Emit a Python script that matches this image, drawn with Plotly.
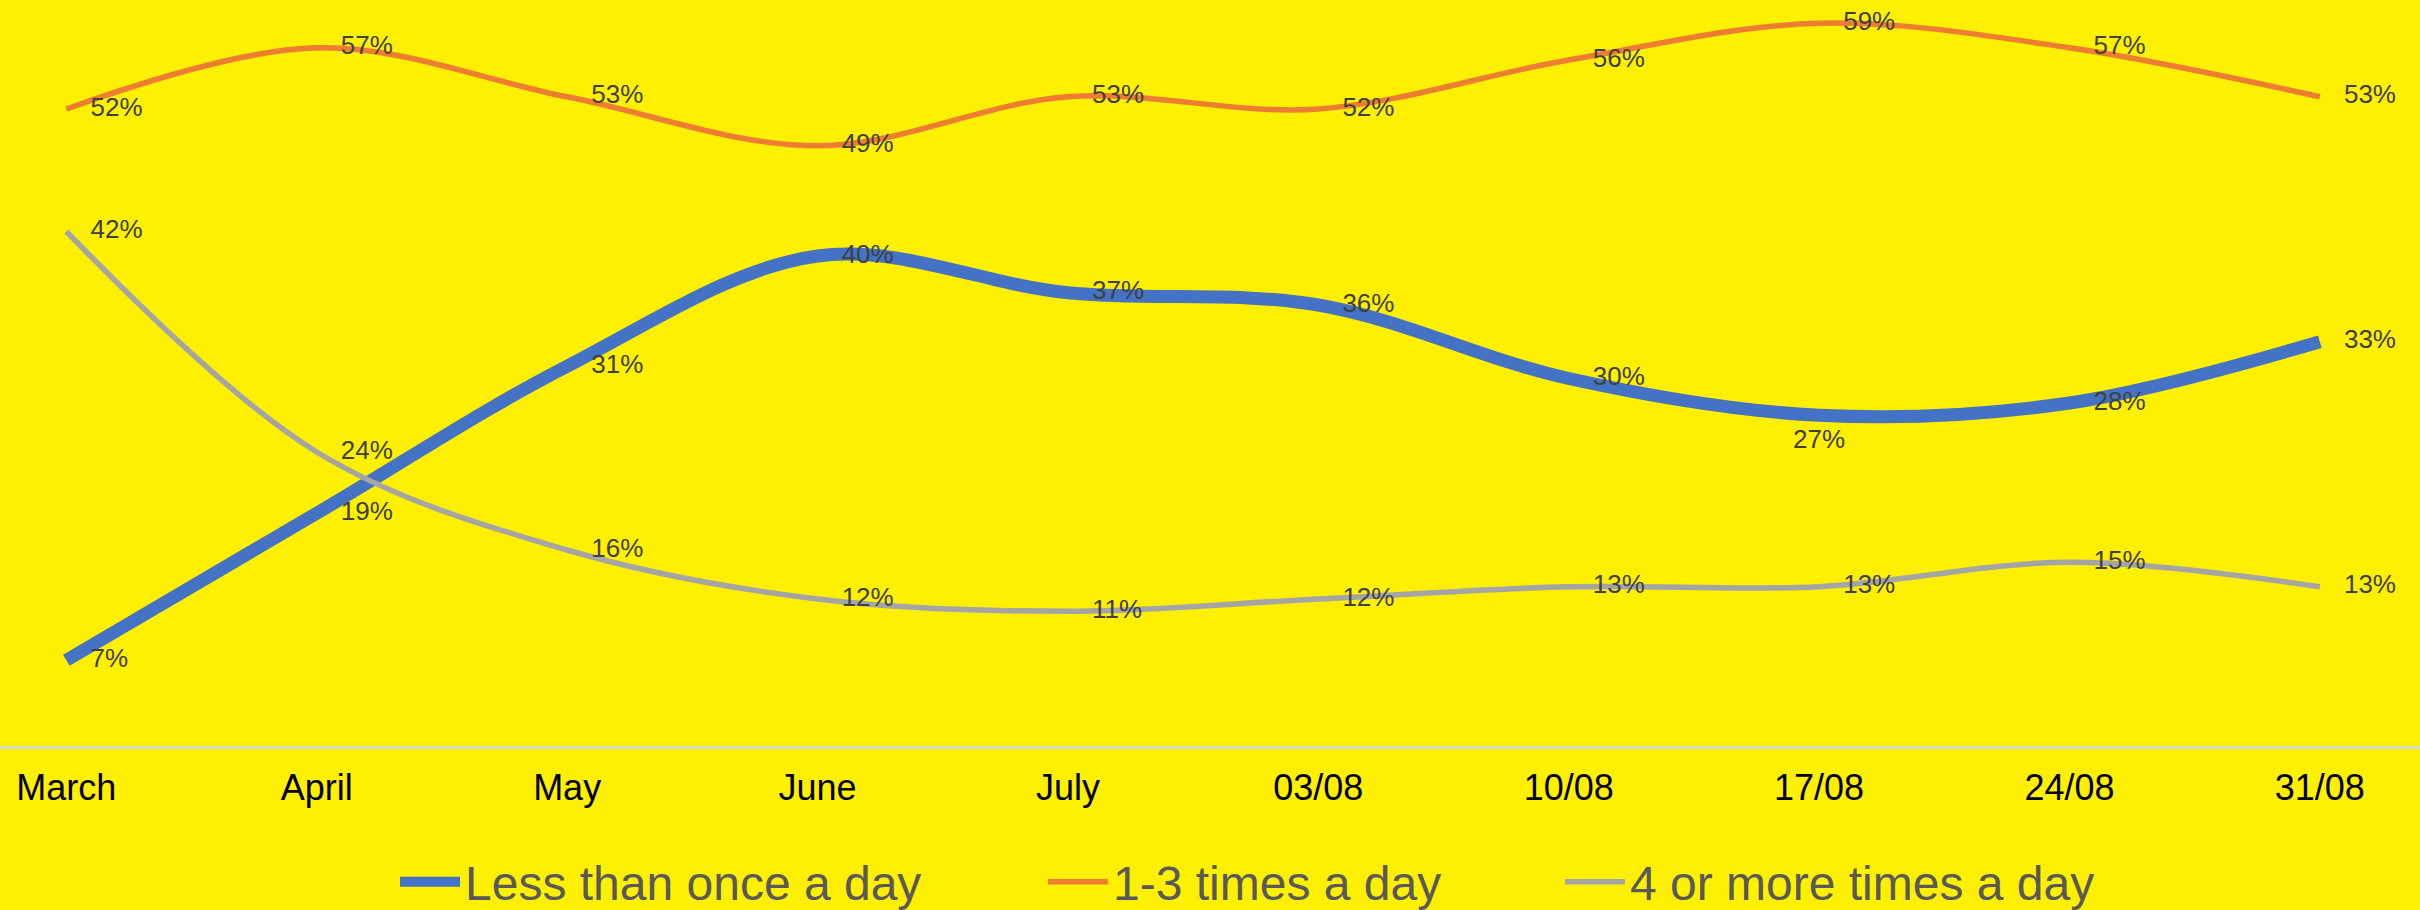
import plotly.graph_objects as go

categories = ["March", "April", "May", "June", "July", "03/08", "10/08", "17/08", "24/08", "31/08"]
less_than_once = [0.07, 0.19, 0.31, 0.40, 0.37, 0.36, 0.30, 0.27, 0.28, 0.33]
one_to_three = [0.52, 0.57, 0.53, 0.49, 0.53, 0.52, 0.56, 0.59, 0.57, 0.53]
four_or_more = [0.42, 0.24, 0.16, 0.12, 0.11, 0.12, 0.13, 0.13, 0.15, 0.13]

series_names = ["Less than once a day", "1-3 times a day", "4 or more times a day"]
colors = ["#4472C4", "#ED7D31", "#A5A5A5"]
widths = [13, 5.5, 5.5]

W, H = 2420, 910
top, bottom = 11, 746

FONT = "Arial, Liberation Sans, sans-serif"

fig = go.Figure()
all_series = [less_than_once, one_to_three, four_or_more]
legend_ids = ["legend", "legend2", "legend3"]
for i, (name, vals) in enumerate(zip(series_names, all_series)):
    positions = ["middle right"] * len(vals)
    if i == 0:
        positions[7] = "bottom center"
    sizes = [37] * len(vals)
    if i == 0:
        sizes[7] = 19
    fig.add_trace(go.Scatter(
        x=categories, y=vals, name=name,
        mode="lines+markers+text",
        line=dict(color=colors[i], width=widths[i], shape="spline", smoothing=1.0),
        marker=dict(size=sizes, opacity=0, color="rgba(0,0,0,0)",
                    line=dict(width=0, color="rgba(0,0,0,0)")),
        text=[f"{round(v*100)}%" for v in vals],
        textposition=positions,
        textfont=dict(family=FONT, size=26, color="#404040"),
        cliponaxis=False,
        legend=legend_ids[i],
        hoverinfo="skip",
    ))

legend_y = (bottom - 882) / (bottom - top)
legend_common = dict(
    orientation="h", yanchor="middle", xanchor="left", y=legend_y,
    font=dict(family=FONT, size=48, color="#595959"),
    bgcolor="rgba(0,0,0,0)", itemwidth=60,
)

fig.update_layout(
    width=W, height=H,
    paper_bgcolor="#FFEF00", plot_bgcolor="#FFEF00",
    margin=dict(l=0, r=0, t=top, b=H - bottom, autoexpand=False),
    showlegend=True,
    legend=dict(x=395 / W, **legend_common),
    legend2=dict(x=1043 / W, **legend_common),
    legend3=dict(x=1560 / W, **legend_common),
    xaxis=dict(
        type="category", range=[-0.265, 9.40],
        showgrid=False, zeroline=False,
        showline=True, linecolor="#D9D9D9", linewidth=3,
        ticks="", ticklabelstandoff=8,
        tickfont=dict(family=FONT, size=36, color="#000000"),
    ),
    yaxis=dict(
        range=[0, 0.6], visible=False, showgrid=False, zeroline=False,
    ),
)

fig.write_html(
    "out.html",
    config={"displayModeBar": False},
    post_script="document.body.style.margin='0';document.body.style.overflow='hidden';document.body.style.background='#FFEF00';",
)
